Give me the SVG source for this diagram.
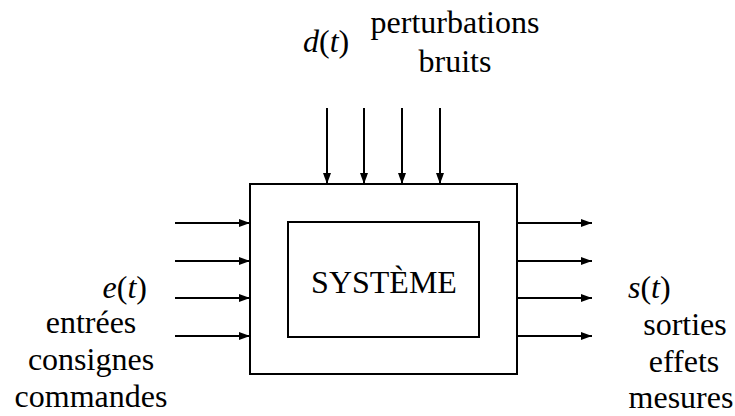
<svg xmlns="http://www.w3.org/2000/svg" width="735" height="416" viewBox="0 0 735 416" font-family="'Liberation Serif', 'DejaVu Serif', 'Times New Roman', serif" font-size="32">
<style>
text{font-family:'Liberation Serif','DejaVu Serif','Times New Roman',serif;font-size:32px;fill:#000}
.i{font-style:italic}
.box{fill:none;stroke:#000;stroke-width:2}
.c line{stroke:#000;stroke-width:2;marker-end:url(#ah)}
</style>
<defs>
<marker id="ah" markerUnits="userSpaceOnUse" markerWidth="12" markerHeight="10" refX="11" refY="4" orient="auto">
<path d="M0,0 L11,4 L0,8 z" fill="#000"/>
</marker>
</defs>
<rect width="735" height="416" fill="#fff"/>
<g id="systeme-outer">
<rect class="box" x="250" y="184" width="267" height="190"/>
</g>
<g id="systeme">
<rect class="box" x="288" y="222" width="191" height="115"/>
<text x="384" y="293" text-anchor="middle">SYSTÈME</text>
</g>
<g class="c" id="connectors">
<line x1="327" y1="108" x2="327" y2="184"/>
<line x1="364" y1="108" x2="364" y2="184"/>
<line x1="402" y1="108" x2="402" y2="184"/>
<line x1="440" y1="108" x2="440" y2="184"/>
<line x1="175" y1="223" x2="250" y2="223"/>
<line x1="175" y1="261" x2="250" y2="261"/>
<line x1="175" y1="298" x2="250" y2="298"/>
<line x1="175" y1="336" x2="250" y2="336"/>
<line x1="517" y1="223" x2="592" y2="223"/>
<line x1="517" y1="261" x2="592" y2="261"/>
<line x1="517" y1="298" x2="592" y2="298"/>
<line x1="517" y1="336" x2="592" y2="336"/>
</g>
<g id="perturbations">
<text x="303" y="52"><tspan class="i">d</tspan>(<tspan class="i">t</tspan>)</text>
<text x="455" y="33" text-anchor="middle">perturbations</text>
<text x="455" y="72" text-anchor="middle">bruits</text>
</g>
<g id="entrees">
<text x="147" y="298" text-anchor="end"><tspan class="i">e</tspan>(<tspan class="i">t</tspan>)</text>
<text x="91" y="333" text-anchor="middle">entrées</text>
<text x="91" y="370" text-anchor="middle">consignes</text>
<text x="91" y="407" text-anchor="middle">commandes</text>
</g>
<g id="sorties">
<text x="628" y="298"><tspan class="i">s</tspan>(<tspan class="i">t</tspan>)</text>
<text x="685" y="335" text-anchor="middle">sorties</text>
<text x="684" y="372" text-anchor="middle">effets</text>
<text x="681" y="408" text-anchor="middle">mesures</text>
</g>
</svg>
